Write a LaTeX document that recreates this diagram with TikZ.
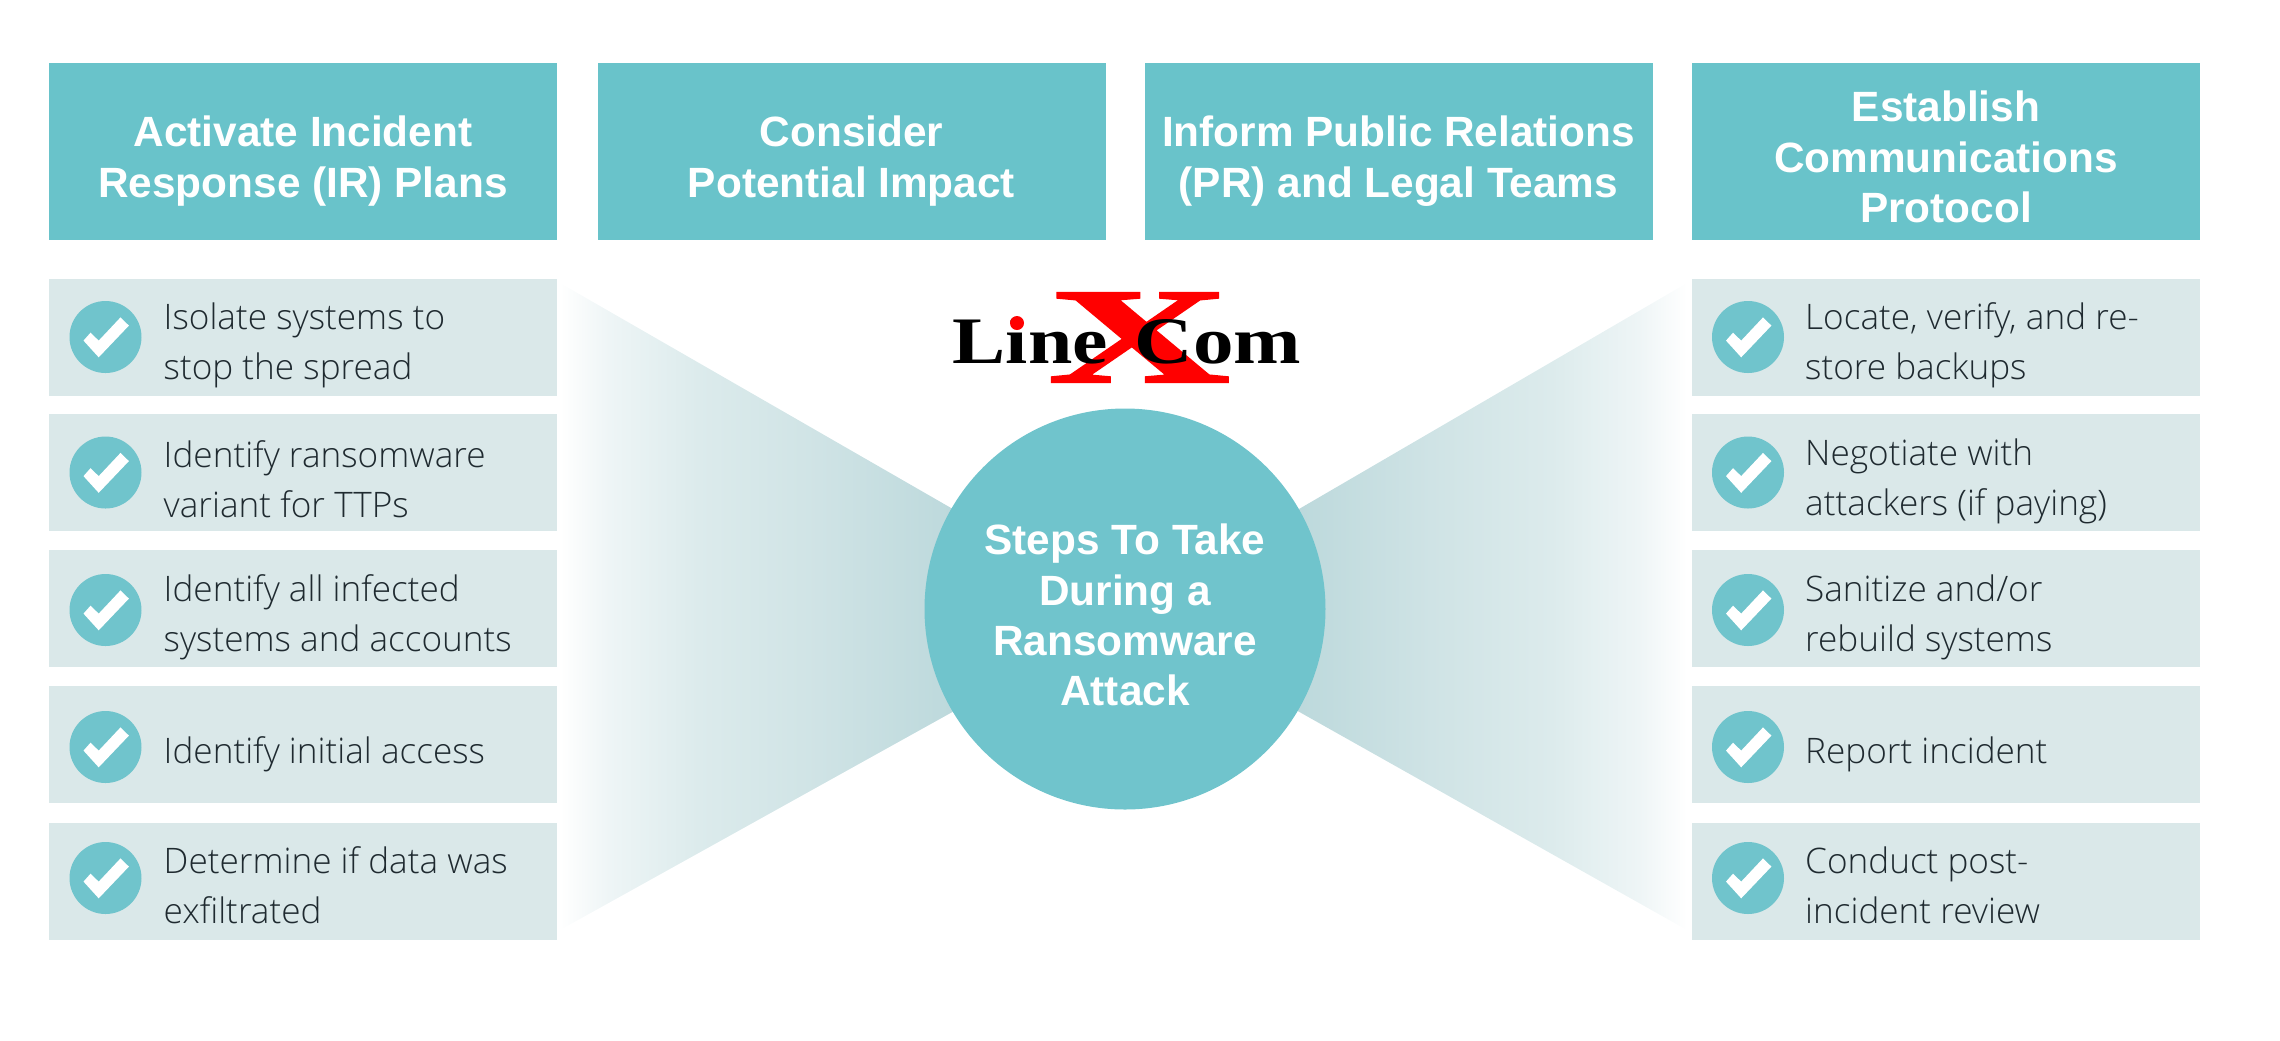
\documentclass[tikz,border=0pt]{standalone}
\usepackage{xcolor}
\usepackage{fontspec}
\setmainfont{Liberation Sans}
\newfontfamily\itemfont{Open Sans Light}
\newfontfamily\logofont{Liberation Serif}
\newfontfamily\logoxfont[FakeBold=1.5]{Liberation Serif Bold}
\usetikzlibrary{calc}
\definecolor{headcol}{HTML}{69C3CA}
\definecolor{itemcol}{HTML}{DAE8E9}
\definecolor{hubcol}{HTML}{70C4CC}
\definecolor{inkcol}{HTML}{1F2A30}
\definecolor{fanA}{HTML}{EEF5F6}
\definecolor{fanB}{HTML}{DCEBEC}
\definecolor{fanC}{HTML}{CFE3E5}
\definecolor{fanD}{HTML}{BBD8DB}
\pgfdeclarehorizontalshading{fanfade}{100bp}{color(0bp)=(white); color(25bp)=(white); color(31bp)=(fanA);
  color(42bp)=(fanB); color(57bp)=(fanC); color(75bp)=(fanD); color(100bp)=(fanD)}
\tikzset{
  headbox/.style={fill=headcol,minimum width=50.8mm,minimum height=17.7mm,inner sep=0pt},
  boldtext/.style={text=white,inner sep=0pt,align=center,font=\fontsize{12.05}{14.3}\selectfont\bfseries},
  itembox/.style={fill=itemcol,minimum width=50.8mm,minimum height=11.7mm,inner sep=0pt},
  itemtext/.style={text=inkcol,anchor=west,inner sep=0pt,align=left,font=\fontsize{10}{14.3}\selectfont\itemfont},
  tickdisc/.style={circle,fill=hubcol,minimum size=7.2mm,inner sep=0pt},
  pics/tick/.style={code={\fill[white] (-22,3.6) -- (-15,-4.3) -- (-6.8,3.6) -- (15,-19.6) -- (23.4,-11.4) -- (-6.8,20.3) -- cycle;}}
}
\newcommand{\logotext}[2]{\scalebox{#1}[1]{\logofont\bfseries #2}}

\begin{document}
\begin{tikzpicture}[x=0.1mm,y=-0.1mm]
    \useasboundingbox (0,0) rectangle (2280,1040);
    % fans behind the hub
    \shade[shading=fanfade] (560,283) -- (965,516) -- (965,705) -- (560,930) -- cycle;
    \shade[shading=fanfade,shading angle=180] (1287,516) -- (1687,283) -- (1687,930) -- (1287,705) -- cycle;
    % header row
    \foreach \x/\dy/\name/\txt in {303/-1/ir/{Activate Incident\\Response (IR) Plans},851.5/-1/impact/{Consider\\Potential Impact},
        1398.5/-1/pr/{Inform Public Relations\\(PR) and Legal Teams},1946/-0.6/comms/{Establish\\Communications\\Protocol}} {
      \node[headbox] (\name) at (\x,151) {};
      \node[boldtext] (\name text) at ([yshift=\dy mm]\name) {\txt};
    }
    % left column
    \foreach \y/\ty/\ly/\txt [count=\i] in {337/337/345.5/{Isolate systems to\\stop the spread},472.5/472.5/479/{Identify ransomware\\variant for TTPs},
        608.5/610/617/{Identify all infected\\systems and accounts},744.5/747/754.5/{Identify initial access},881/878/885/{Determine if data was\\exfiltrated}} {
      \node[itembox] (l\i) at (303,\y) {};
      \node[tickdisc] (lt\i) at (105.5,\ty) {};
      \pic at (lt\i) {tick};
      \node[itemtext] (ll\i) at (163,\ly) {\txt};
    }
    % right column
    \foreach \y/\ty/\ly/\txt [count=\i] in {337/337/345.5/{Locate, verify, and re-\\store backups},472.5/472.5/481/{Negotiate with\\attackers (if paying)},
        608.5/610/617/{Sanitize and/or\\rebuild systems},744.5/747/754.5/{Report incident},881/878/885/{Conduct post-\\incident review}} {
      \node[itembox] (r\i) at (1946,\y) {};
      \node[tickdisc] (rt\i) at (1748,\ty) {};
      \pic at (rt\i) {tick};
      \node[itemtext] (rl\i) at (1804.5,\ly) {\txt};
    }
    % hub
    \node[circle,fill=hubcol,minimum size=40.1mm,inner sep=0pt] (hub) at (1125,609) {};
    \node[boldtext] (hubtext) at ([yshift=-0.6mm]hub) {Steps To Take\\During a\\Ransomware\\Attack};
    % logo
    \node[inner sep=0pt,anchor=base,text=red,font=\fontsize{38.7}{40}\selectfont] (logox) at (1139,382) {\scalebox{1.85}[1]{\logoxfont X}};
    \node[inner sep=0pt,anchor=base west,font=\fontsize{18.9}{20}\selectfont] (logoa) at (952,363) {\logotext{1.2}{Line}};
    \node[inner sep=0pt,anchor=base west,font=\fontsize{18.9}{20}\selectfont] (logob) at (1134,363) {\logotext{1.22}{Com}};
    \fill[red] (1017,323) circle [radius=7];
  \end{tikzpicture}
\end{document}
